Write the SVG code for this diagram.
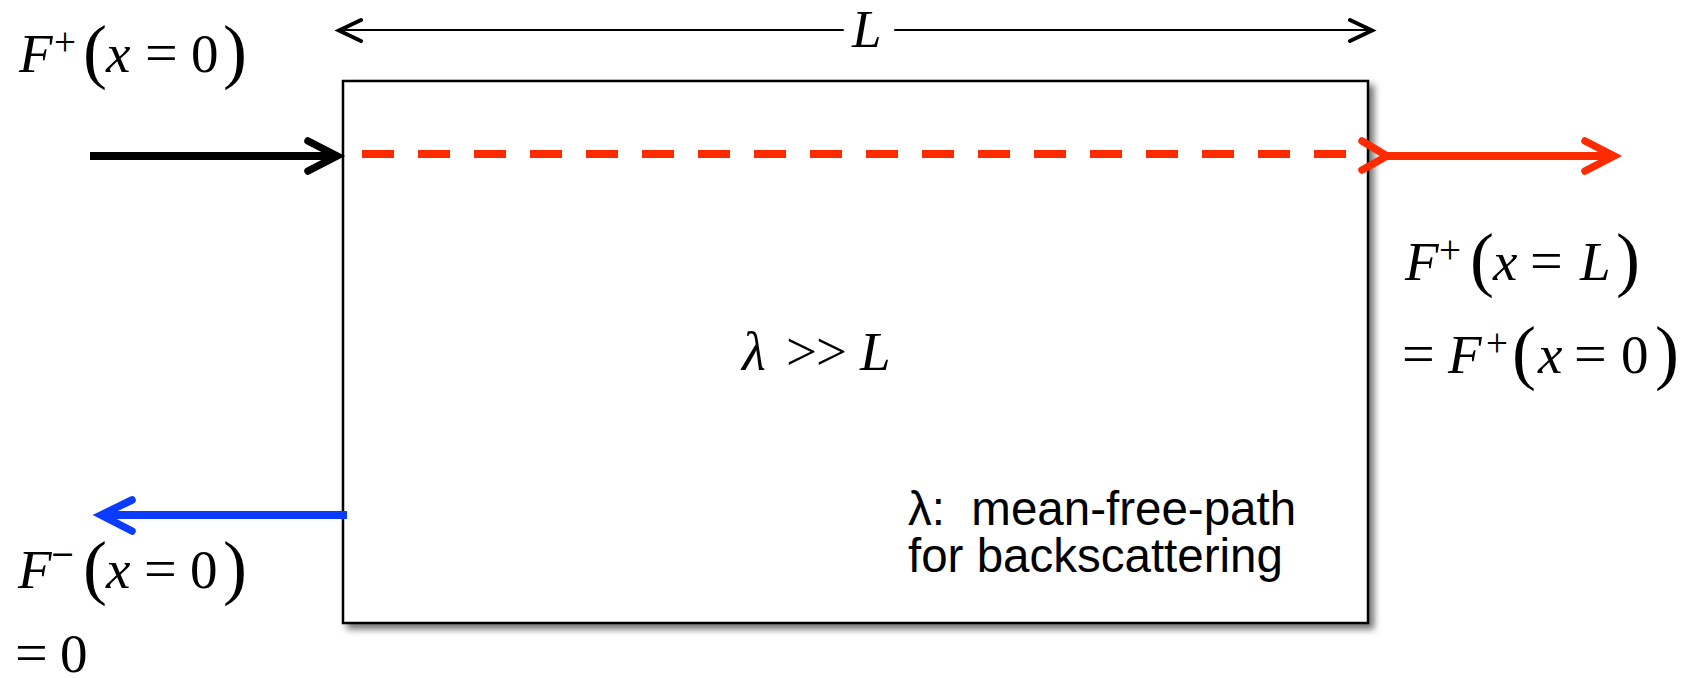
<svg xmlns="http://www.w3.org/2000/svg" width="1688" height="678" viewBox="0 0 1688 678">
<style>
.m{font-family:"Liberation Serif","Times New Roman",serif;font-size:55px;fill:#000}
.i{font-style:italic}
.sup{font-size:39px}
.par{font-size:72px}
.eq{font-size:58px}
.mn{font-family:"DejaVu Serif",serif;font-size:30px;fill:#000}
.note{font-family:"Liberation Sans",Arial,sans-serif;font-size:47.5px;fill:#000;white-space:pre}
.ln{fill:none;stroke-linecap:round;stroke-linejoin:miter}
</style>
<defs>
<filter id="sh" x="-5%" y="-5%" width="115%" height="115%">
<feGaussianBlur in="SourceAlpha" stdDeviation="3.5"/>
<feOffset dx="5" dy="5" result="b"/>
<feComponentTransfer><feFuncA type="linear" slope="0.55"/></feComponentTransfer>
<feMerge><feMergeNode/><feMergeNode in="SourceGraphic"/></feMerge>
</filter>
</defs>
<rect width="1688" height="678" fill="#fff"/>
<g id="box">
<rect x="343" y="81" width="1025" height="542" fill="#fff" stroke="#000" stroke-width="2.5" filter="url(#sh)"/>
<text class="m i" x="742" y="370">λ</text>
<text class="m" x="786" y="370">&gt;</text>
<text class="m" x="816" y="370">&gt;</text>
<text class="m i" x="860" y="370">L</text>
<text class="note" x="908" y="525" xml:space="preserve">λ:  mean-free-path</text>
<text class="note" x="908" y="572">for backscattering</text>
</g>
<g id="connectors">
<g class="ln" stroke="#000">
<path d="M339,30H843M895,30H1372" stroke-width="2"/>
<path d="M361,20L339,30.5L361,41M1350,20L1372,30.5L1350,41" stroke-width="4"/>
<path d="M90,156H334" stroke-width="8" stroke-linecap="butt"/>
<path d="M308,141L337,156L308,171" stroke-width="7.5"/>
</g>
<g class="ln" stroke="#FF2A00">
<path d="M362,154H1346" stroke-width="8" stroke-dasharray="32 24" stroke-linecap="butt"/>
<path d="M1386,156H1612" stroke-width="8" stroke-linecap="butt"/>
<path d="M1362,141L1387,156L1362,170M1585,141L1614,156L1585,171" stroke-width="7.5"/>
</g>
<g class="ln" stroke="#0B3BFF">
<path d="M347,515H104" stroke-width="8" stroke-linecap="butt"/>
<path d="M132,500L101,515L132,531" stroke-width="7.5"/>
</g>
</g>
<g id="label-top">
<text class="m i" x="852" y="47" style="font-size:53px">L</text>
</g>
<g id="label-in">
<text class="m i" x="19" y="72">F</text>
<text class="m sup" x="54" y="55">+</text>
<text class="m par" x="83" y="75">(</text>
<text class="m i" x="106" y="72">x</text>
<text class="m eq" x="145" y="72">=</text>
<text class="m" x="191" y="72">0</text>
<text class="m par" x="223" y="75">)</text>
</g>
<g id="label-out">
<text class="m i" x="1405" y="280">F</text>
<text class="m sup" x="1439" y="263">+</text>
<text class="m par" x="1470" y="283">(</text>
<text class="m i" x="1493" y="280">x</text>
<text class="m eq" x="1530" y="280">=</text>
<text class="m i" x="1580" y="280">L</text>
<text class="m par" x="1616" y="283">)</text>
<text class="m eq" x="1402" y="373">=</text>
<text class="m i" x="1448" y="373">F</text>
<text class="m sup" x="1486" y="356">+</text>
<text class="m par" x="1512" y="376">(</text>
<text class="m i" x="1538" y="373">x</text>
<text class="m eq" x="1574" y="373">=</text>
<text class="m" x="1621" y="373">0</text>
<text class="m par" x="1655" y="376">)</text>
</g>
<g id="label-back">
<text class="m i" x="18" y="588">F</text>
<text class="mn" x="50" y="564">−</text>
<text class="m par" x="83" y="591">(</text>
<text class="m i" x="106" y="588">x</text>
<text class="m eq" x="144" y="588">=</text>
<text class="m" x="190" y="588">0</text>
<text class="m par" x="223" y="591">)</text>
<text class="m eq" x="15" y="672">=</text>
<text class="m" x="60" y="672">0</text>
</g>
</svg>
